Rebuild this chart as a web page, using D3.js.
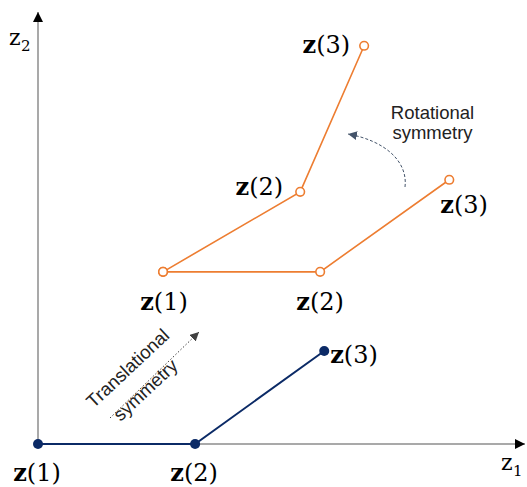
<!DOCTYPE html>
<html><head><meta charset="utf-8">
<script src="https://cdn.jsdelivr.net/npm/d3@7"></script>
<style>body{margin:0;background:#fff}</style>
</head><body>
<svg id="c" width="527" height="487"></svg>
<script>
// Data (in abstract z1/z2 units)
const basePoints = [[0,0],[1,0],[1.822,0.592]];
const translatedPoints = [[0.796,1.096],[1.796,1.096],[2.618,1.682]];
const rotatedPoints = [[0.796,1.096],[1.669,1.605],[2.076,2.535]];
const pointLabels = ["(1)","(2)","(3)"];
const axisLabels = ["1","2"];
const annotations = [["Rotational","symmetry"],["Translational","symmetry"]];

const svg = d3.select("#c");
const x = d3.scaleLinear().domain([0,3.1]).range([38,525]);
const y = d3.scaleLinear().domain([0,2.75]).range([444,12]);

const defs = svg.append("defs");
function marker(id,size,col){
  defs.append("marker").attr("id",id).attr("viewBox","0 0 10 10").attr("refX",10).attr("refY",5)
    .attr("markerWidth",size).attr("markerHeight",size).attr("markerUnits","userSpaceOnUse").attr("orient","auto")
    .append("path").attr("d","M0,0L10,5L0,10Z").attr("fill",col);
}
marker("ah",10,"#000");
marker("ahs",9,"#44546a");
marker("ahd",9,"#404040");

// axes
svg.append("line").attr("x1",x(0)).attr("y1",y(0)).attr("x2",x(3.1)).attr("y2",y(0))
  .attr("stroke","#8c8c8c").attr("stroke-width",1.5).attr("marker-end","url(#ah)");
svg.append("line").attr("x1",x(0)).attr("y1",y(0)).attr("x2",x(0)).attr("y2",y(2.75))
  .attr("stroke","#8c8c8c").attr("stroke-width",1.5).attr("marker-end","url(#ah)");

function axisLabel(px,py,sub){
  const t = svg.append("text").attr("x",px).attr("y",py).attr("font-family","DejaVu Serif, serif")
    .attr("font-size",22).attr("fill","#000");
  t.append("tspan").text("z");
  t.append("tspan").attr("font-size",15).attr("dy",6).attr("dx",0.5).text(sub);
}
axisLabel(9,45,axisLabels[1]);
axisLabel(501,470,axisLabels[0]);

const line = d3.line().x(d=>x(d[0])).y(d=>y(d[1]));
const orange="#ED7D31", navy="#0b2a66";

svg.append("path").attr("d",line(translatedPoints)).attr("fill","none").attr("stroke",orange).attr("stroke-width",1.6);
svg.append("path").attr("d",line(rotatedPoints)).attr("fill","none").attr("stroke",orange).attr("stroke-width",1.6);
svg.append("path").attr("d",line(basePoints)).attr("fill","none").attr("stroke",navy).attr("stroke-width",2);

svg.selectAll(".op").data(translatedPoints.concat(rotatedPoints)).join("circle")
  .attr("cx",d=>x(d[0])).attr("cy",d=>y(d[1])).attr("r",4.3)
  .attr("fill","#fff").attr("stroke",orange).attr("stroke-width",1.6);
svg.selectAll(".bp").data(basePoints).join("circle")
  .attr("cx",d=>x(d[0])).attr("cy",d=>y(d[1])).attr("r",5).attr("fill",navy);

function zLabel(px,py,lab,anchor){
  const t = svg.append("text").attr("x",px).attr("y",py).attr("text-anchor",anchor||"middle")
    .attr("font-family","DejaVu Serif, serif").attr("font-size",24).attr("fill","#000");
  t.append("tspan").attr("font-weight","bold").text("z");
  t.append("tspan").text(lab);
}
// base labels
zLabel(x(basePoints[0][0])-1,481,pointLabels[0]);
zLabel(x(basePoints[1][0])-1,481,pointLabels[1]);
zLabel(x(basePoints[2][0])+6,y(basePoints[2][1])+12,pointLabels[2],"start");
// translated
zLabel(x(translatedPoints[0][0])+1,310,pointLabels[0]);
zLabel(x(translatedPoints[1][0]),310,pointLabels[1]);
zLabel(x(translatedPoints[2][0])-9,y(translatedPoints[2][1])+33,pointLabels[2],"start");
// rotated
zLabel(x(rotatedPoints[1][0])-17,y(rotatedPoints[1][1])+3,pointLabels[1],"end");
zLabel(x(rotatedPoints[2][0])-14,y(rotatedPoints[2][1])+7,pointLabels[2],"end");

// Rotational symmetry
const rt = svg.append("text").attr("font-family","Liberation Sans, Arial, sans-serif").attr("font-size",18.5)
  .attr("fill","#222").attr("text-anchor","middle");
rt.append("tspan").attr("x",432.5).attr("y",119).text(annotations[0][0]);
rt.append("tspan").attr("x",432.5).attr("y",139).text(annotations[0][1]);
svg.append("path").attr("d","M405,187 C408,162 386,141 348,134").attr("fill","none")
  .attr("stroke","#44546a").attr("stroke-width",1).attr("stroke-dasharray","3,2").attr("marker-end","url(#ahs)");

// Translational symmetry
svg.append("line").attr("x1",110).attr("y1",418).attr("x2",199).attr("y2",332)
  .attr("stroke","#404040").attr("stroke-width",1).attr("stroke-dasharray","1.5,2").attr("marker-end","url(#ahd)");
const tt = svg.append("text").attr("font-family","Liberation Sans, Arial, sans-serif").attr("font-size",18.5)
  .attr("fill","#222").attr("text-anchor","middle").attr("transform","translate(110,418) rotate(-43)");
tt.append("tspan").attr("x",47).attr("y",-18).text(annotations[1][0]);
tt.append("tspan").attr("x",45).attr("y",10).text(annotations[1][1]);
</script>
</body></html>
